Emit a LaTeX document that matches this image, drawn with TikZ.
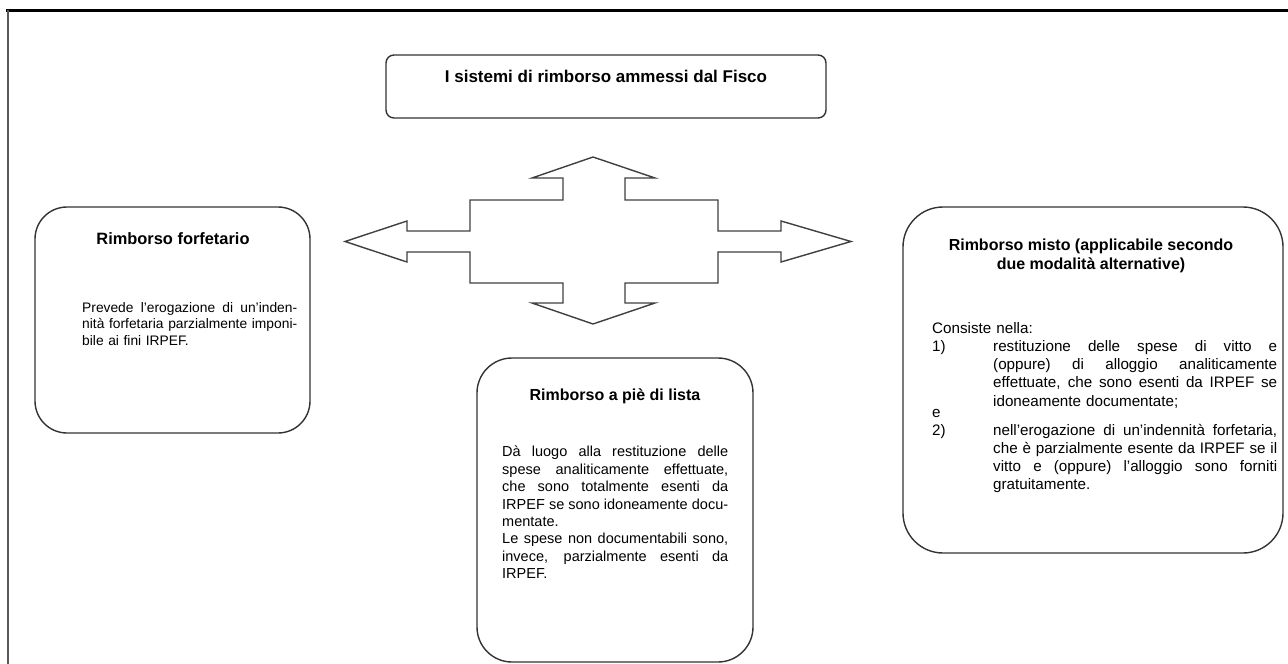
\documentclass[tikz,border=0pt]{standalone}
\usepackage{fontspec}
\setmainfont{Liberation Sans}
\newlength\jlw
\newcommand{\jl}[1]{\makebox[\jlw][s]{\spaceskip=0.28em plus 1fil minus 0.12em\relax #1}\\}
\tikzset{
  box/.style={draw=black!80, line width=1.4pt, fill=white, inner sep=0pt},
  ttl/.style={font=\bfseries\fontsize{16}{19}\selectfont, align=center, inner sep=0pt, text=black},
  body/.style={inner sep=0pt, anchor=north west, align=left, text=black},
  bigarrow/.style={draw=black!75, line width=1.4pt, fill=white, line join=miter},
}
\begin{document}
\begin{tikzpicture}[x=1pt,y=-1pt]
\useasboundingbox (0,0) rectangle (1288,664);
% frame
\draw[line width=3pt] (6,10) -- (1288,10);
\draw[black!65, line width=2pt] (7.5,10) -- (7.5,664);
% boxes
\node[box, rounded corners=8pt, minimum width=440pt, minimum height=63pt] (topbox) at (606,86.5) {};
\node[box, rounded corners=32pt, minimum width=275pt, minimum height=226pt] (leftbox) at (172.5,320) {};
\node[box, rounded corners=35pt, minimum width=276pt, minimum height=304pt] (botbox) at (615,510) {};
\node[box, rounded corners=40pt, minimum width=380pt, minimum height=346pt] (rightbox) at (1093,380) {};
% titles
\node[ttl, font=\bfseries\fontsize{17}{19}\selectfont] (toptitle) at (606,76) {I sistemi di rimborso ammessi dal Fisco};
\node[ttl, font=\bfseries\fontsize{16.4}{19}\selectfont] (lefttitle) at (173,239) {Rimborso forfetario};
\node[ttl] (bottitle) at (615,396) {Rimborso a piè di lista};
\node[ttl] (righttitle) at (1091,256) {Rimborso misto (applicabile secondo\\due modalità alternative)};
% bodies
\node[body, text width=215pt, font=\fontsize{13.8}{16.5}\selectfont] (leftbody) at (82,302)
 {\setlength\jlw{215pt}\jl{Prevede l’erogazione di un’inden-}\jl{nità forfetaria parzialmente imponi-}bile ai fini IRPEF.};
\node[body, text width=226pt, font=\fontsize{14.5}{17.4}\selectfont] (botbody) at (502,446)
 {\setlength\jlw{226pt}\jl{Dà luogo alla restituzione delle}\jl{spese analiticamente effettuate,}\jl{che sono totalmente esenti da}\jl{IRPEF se sono idoneamente docu-}mentate.\\
  \jl{Le spese non documentabili sono,}\jl{invece, parzialmente esenti da}IRPEF.};
\node[body, text width=345pt, font=\fontsize{15.2}{18.2}\selectfont] (rightbody) at (932,322)
 {Consiste nella:\\
  \makebox[61pt][l]{1)}\parbox[t]{284pt}{\setlength\jlw{284pt}\jl{restituzione delle spese di vitto e}\jl{(oppure) di alloggio analiticamente}\jl{effettuate, che sono esenti da IRPEF se}idoneamente documentate;}\\
  e\\
  \makebox[61pt][l]{2)}\parbox[t]{284pt}{\setlength\jlw{284pt}\jl{nell’erogazione di un’indennità forfetaria,}\jl{che è parzialmente esente da IRPEF se il}\jl{vitto e (oppure) l’alloggio sono forniti}gratuitamente.}};
% four-way arrow
\draw[bigarrow] (593,157) -- (655,178) -- (625,178) -- (625,200) -- (718,200) -- (718,231)
  -- (781,231) -- (781,221) -- (851,241.5) -- (781,262) -- (781,252) -- (718,252) -- (718,283)
  -- (625,283) -- (625,303) -- (655,303) -- (593,324) -- (532,303) -- (563,303) -- (563,283)
  -- (470,283) -- (470,252) -- (407,252) -- (407,262) -- (345,241.5) -- (407,221) -- (407,231)
  -- (470,231) -- (470,200) -- (563,200) -- (563,178) -- (532,178) -- cycle;
\end{tikzpicture}
\end{document}
